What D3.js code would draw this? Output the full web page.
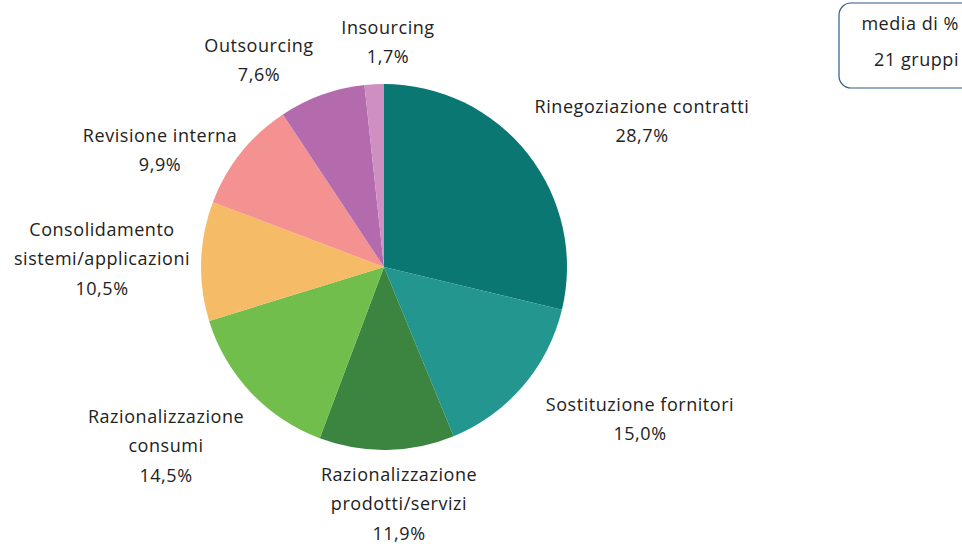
<!DOCTYPE html>
<html>
<head>
<meta charset="utf-8">
<script src="https://cdn.jsdelivr.net/npm/d3@7"></script>
<style>
  html, body { margin: 0; padding: 0; background: #ffffff; }
  svg { display: block; }
  text { font-family: "Open Sans", "Noto Sans", sans-serif; fill: #222222; letter-spacing: 0.55px; }
</style>
</head>
<body>
<svg id="chart" width="962" height="544"></svg>
<script>
// Interventi di razionalizzazione: media di % su 21 gruppi
const categories = [
  ["Rinegoziazione contratti"],
  ["Sostituzione fornitori"],
  ["Razionalizzazione", "prodotti/servizi"],
  ["Razionalizzazione", "consumi"],
  ["Consolidamento", "sistemi/applicazioni"],
  ["Revisione interna"],
  ["Outsourcing"],
  ["Insourcing"]
];
const values = [28.7, 15.0, 11.9, 14.5, 10.5, 9.9, 7.6, 1.7];
const colors = ["#0a7773", "#22968f", "#3c8540", "#71be4c", "#f6bb66", "#f39290", "#b36bae", "#d08fc1"];
const legendLines = ["media di %", "21 gruppi"];

const svg = d3.select("#chart");
const cx = 384, cy = 267, radius = 183;
const fontSize = 18, lineHeight = 29.3;

const pie = d3.pie().sort(null).value(d => d)(values);
const arc = d3.arc().innerRadius(0).outerRadius(radius);

const g = svg.append("g").attr("transform", `translate(${cx},${cy})`);
g.selectAll("path.slice")
  .data(pie)
  .join("path")
  .attr("class", "slice")
  .attr("d", arc)
  .attr("fill", (d, i) => colors[i]);

// Label block centres, relative to the pie centre
const labelPos = [
  [258, -146], [256, 152], [15, 237], [-218, 179],
  [-282, -8], [-224, -117], [-125, -207], [4, -225]
];
const fmt = v => v.toFixed(1).replace(".", ",") + "%";

const labels = g.selectAll("text.label")
  .data(pie)
  .join("text")
  .attr("class", "label")
  .attr("text-anchor", "middle")
  .attr("font-size", fontSize)
  .attr("transform", (d, i) => `translate(${labelPos[i][0]},${labelPos[i][1]})`);

labels.each(function(d, i) {
  const lines = categories[i].concat([fmt(values[i])]);
  const top = -((lines.length - 1) * lineHeight) / 2;
  d3.select(this).selectAll("tspan")
    .data(lines)
    .join("tspan")
    .attr("x", 0)
    .attr("y", (l, j) => top + j * lineHeight)
    .attr("dy", "0.35em")
    .text(l => l);
});

// Note box, top right
const box = svg.append("g");
box.append("rect")
  .attr("x", 839).attr("y", 3)
  .attr("width", 140).attr("height", 85)
  .attr("rx", 12).attr("ry", 12)
  .attr("fill", "#ffffff")
  .attr("stroke", "#2f5b86")
  .attr("stroke-width", 1.2);
box.selectAll("text.note")
  .data(legendLines)
  .join("text")
  .attr("class", "note")
  .attr("x", 959)
  .attr("y", (d, i) => 24 + i * 36)
  .attr("dy", "0.35em")
  .attr("text-anchor", "end")
  .attr("font-size", fontSize)
  .text(d => d);
</script>
</body>
</html>
